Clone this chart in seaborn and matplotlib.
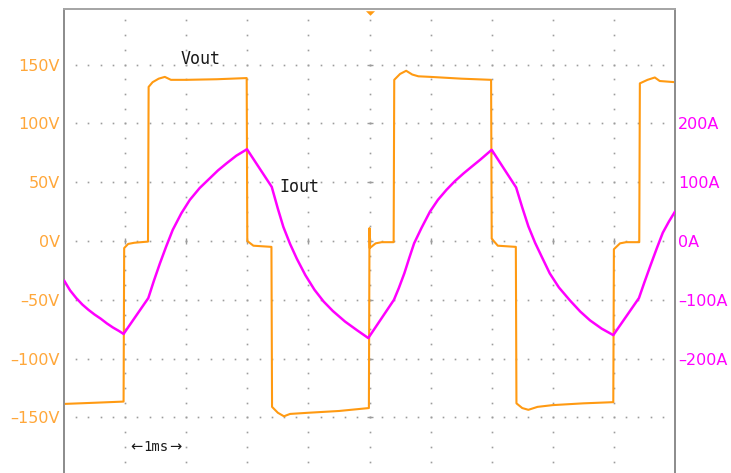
import numpy as np
import pandas as pd
import matplotlib
matplotlib.use("Agg")
import matplotlib.pyplot as plt
from matplotlib.path import Path
from matplotlib.transforms import blended_transform_factory
import seaborn as sns

# ---- time base: 1 ms / div, 10 divisions ----
x_divs = 10
ms_per_div = 1.0

# ---- channel 1: output voltage (V) ----
vout_t = [0.0, 0.5, 0.975,
          0.985, 1.05, 1.15, 1.375,
          1.385, 1.45, 1.55, 1.65, 1.75, 2.0, 2.5, 2.99,
          3.0, 3.1, 3.395,
          3.405, 3.5, 3.6, 3.7, 4.0, 4.5, 4.99,
          5.0, 5.005, 5.1, 5.2, 5.395,
          5.405, 5.5, 5.6, 5.7, 5.8, 6.0, 6.5, 6.99,
          7.0, 7.1, 7.395,
          7.405, 7.5, 7.6, 7.75, 8.0, 8.5, 8.99,
          9.0, 9.1, 9.2, 9.415,
          9.425, 9.55, 9.67, 9.75, 10.0]
vout_v = [-138.5, -137.5, -136.5,
          -6, -2.5, -1.5, -0.5,
          131, 135, 138, 139.5, 137, 137, 137.5, 138.5,
          0, -4, -5,
          -141, -146, -149, -147, -146, -144.5, -142,
          11, -6, -2, -1, -1,
          137, 142, 144.7, 141.5, 140, 139.5, 138, 137,
          2, -4, -5,
          -138, -142, -143.5, -141, -139.5, -138, -137,
          -7, -2, -1, -1,
          134, 137, 139, 136, 135]

# ---- channel 2: output current (A) ----
iout_t = [0.0, 0.1, 0.2, 0.3, 0.4, 0.5, 0.6, 0.7, 0.8, 0.9, 0.975,
          1.38, 1.47, 1.57, 1.67, 1.78, 1.92, 2.06, 2.22, 2.39, 2.52, 2.66,
          2.82, 2.995,
          3.40, 3.50, 3.59, 3.70, 3.81, 3.95, 4.10, 4.25, 4.40, 4.60, 4.80,
          4.98,
          5.40, 5.48, 5.57, 5.65, 5.73, 5.85, 5.99, 6.12, 6.26, 6.40, 6.54,
          6.68, 6.81, 7.0,
          7.40, 7.50, 7.60, 7.71, 7.82, 7.95, 8.10, 8.28, 8.45, 8.61, 8.80,
          8.99,
          9.41, 9.50, 9.59, 9.70, 9.80, 9.90, 10.0]
iout_a = [-67, -84, -97, -108, -117, -125, -132, -140, -147, -153, -158,
          -97, -68, -38, -10, 19, 47, 70, 90, 107, 120, 132,
          145, 156,
          92, 55, 24, -5, -30, -58, -83, -103, -119, -137, -152,
          -165,
          -100, -80, -55, -29, -4, 22, 50, 70, 87, 102, 115,
          127, 138, 155,
          91, 57, 25, -3, -27, -55, -79, -101, -120, -135, -149,
          -160,
          -97, -70, -44, -13, 14, 33, 50]

# ---- scale labels ----
volt_ticks = [150, 100, 50, 0, -50, -100, -150]
volt_labels = ["150V", "100V", "50V", "0V", "–50V", "–100V", "–150V"]
amp_ticks = [200, 100, 0, -100, -200]
amp_labels = ["200A", "100A", "0A", "–100A", "–200A"]

volt_per_div = 50
amp_per_div = 100
trigger_ms = 5.0

ORANGE = "#FF9A12"
ORANGE_TXT = "#FFA73A"
MAGENTA = "#FF00FF"
GRID = "#9c9c9c"

sns.set_style("white")
plt.rcParams["font.family"] = ["DejaVu Sans"]

fig = plt.figure(figsize=(7.31, 4.73), dpi=100)
fig.patch.set_facecolor("white")
ax = fig.add_axes([64 / 731, 0.0, 611 / 731, 464 / 473])
ax2 = ax.twinx()

vmax = 232 / (58.82 / volt_per_div)
amax = vmax * amp_per_div / volt_per_div
ax.set_xlim(0, x_divs * ms_per_div)
ax.set_ylim(-vmax, vmax)

# dotted graticule: 5 dots per time division, 4 dots per amplitude division
h_levels = np.arange(-150, 151, volt_per_div)
t_dots = np.arange(0.2, x_divs, 0.2)
tt, hh = np.meshgrid(t_dots, h_levels)
ax.plot(tt.ravel(), hh.ravel(), ls="none", marker="s", ms=1.2, mew=0,
        color=GRID, zorder=1)
v_levels = np.arange(1, x_divs)
v_dots = np.arange(-187.5, vmax, volt_per_div / 4)
vv, yy = np.meshgrid(v_levels, v_dots)
ax.plot(vv.ravel(), yy.ravel(), ls="none", marker="s", ms=1.2, mew=0,
        color=GRID, zorder=1)
# centre cross tick marks
ax.plot(np.full(len(h_levels), x_divs / 2), h_levels, ls="none", marker="_",
        ms=5, mew=1.0, color=GRID, zorder=1)
ax.plot(v_levels, np.zeros(len(v_levels)), ls="none", marker="|",
        ms=5, mew=1.0, color=GRID, zorder=1)

# traces
df_v = pd.DataFrame({"time_ms": vout_t, "Vout": vout_v})
df_i = pd.DataFrame({"time_ms": iout_t, "Iout": iout_a})
sns.lineplot(data=df_v, x="time_ms", y="Vout", ax=ax, sort=False,
             estimator=None, color=ORANGE, lw=1.5, zorder=3)
sns.lineplot(data=df_i, x="time_ms", y="Iout", ax=ax2, sort=False,
             estimator=None, color=MAGENTA, lw=1.8, zorder=3)
ax.set_xlim(0, x_divs * ms_per_div)
ax.set_ylim(-vmax, vmax)
ax2.set_ylim(-amax, amax)

for a in (ax, ax2):
    a.set_xlabel("")
    a.set_ylabel("")
    a.set_xticks([])
    a.set_facecolor("none")
ax.set_facecolor("white")

ax.set_yticks(volt_ticks, labels=volt_labels)
ax.tick_params(axis="y", length=0, pad=3, labelsize=11.5, labelcolor=ORANGE_TXT)
ax2.set_yticks(amp_ticks, labels=amp_labels)
ax2.tick_params(axis="y", length=0, pad=2, labelsize=11.5, labelcolor=MAGENTA)

for a in (ax, ax2):
    a.spines["bottom"].set_visible(False)
    for s in ("left", "right", "top"):
        a.spines[s].set_color("#8e8e8e")
        a.spines[s].set_linewidth(1.3)
ax2.spines["top"].set_color("#a8a8a8")

# trigger position marker
tri = Path([(-1, 0.5), (1, 0.5), (0, -0.5), (-1, 0.5)],
           [Path.MOVETO, Path.LINETO, Path.LINETO, Path.CLOSEPOLY])
ax2.plot([trigger_ms], [0.9918], marker=tri, ms=6.5, color=ORANGE, mew=0,
         transform=blended_transform_factory(ax.transData, ax.transAxes),
         clip_on=False, zorder=5)

# channel labels
mono = "DejaVu Sans Mono"
ax.text(2.23, 154.6, "Vout", family=mono, fontsize=12, color="#1a1a1a",
        ha="center", va="center", zorder=6)
ax.text(3.86, 46, "Iout", family=mono, fontsize=12, color="#1a1a1a",
        ha="center", va="center", zorder=6)

# time-per-division indicator
ax.text(1.5, -175, "1ms", family=mono, fontsize=10, color="#1a1a1a",
        ha="center", va="center", zorder=6)
ax.text(1.28, -175, "←", fontsize=10.5, color="#1a1a1a",
        ha="right", va="center", zorder=6)
ax.text(1.72, -175, "→", fontsize=10.5, color="#1a1a1a",
        ha="left", va="center", zorder=6)

fig.savefig("out.png", dpi=100, facecolor="white")
